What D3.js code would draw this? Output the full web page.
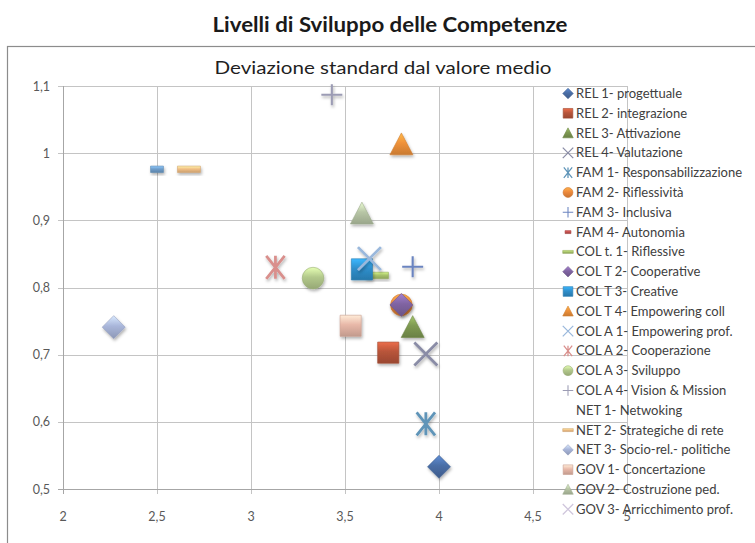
<!DOCTYPE html>
<html lang="it">
<head>
  <meta charset="utf-8">
  <title>Livelli di Sviluppo delle Competenze</title>
  <script src="https://d3js.org/d3.v7.min.js"></script>
  <style>
    body { margin: 0; background: #fff; }
    text { font-family: Lato, "Open Sans", sans-serif; }
  </style>
</head>
<body>
<script>

// series, in legend order
var series = ["REL 1- progettuale", "REL 2- integrazione", "REL 3- Attivazione", "REL 4- Valutazione",
    "FAM 1- Responsabilizzazione", "FAM 2- Riflessività", "FAM 3- Inclusiva", "FAM 4- Autonomia",
    "COL t. 1- Riflessive", "COL T 2- Cooperative", "COL T 3- Creative", "COL T 4- Empowering coll",
    "COL A 1- Empowering prof.", "COL A 2- Cooperazione", "COL A 3- Sviluppo", "COL A 4- Vision & Mission",
    "NET 1- Netwoking", "NET 2- Strategiche di rete", "NET 3- Socio-rel.- politiche",
    "GOV 1- Concertazione", "GOV 2- Costruzione ped.", "GOV 3- Arricchimento prof."];

// mean value (x) and standard deviation (y); null = not visible in the picture
var xValues = [4.00, 3.73, 3.86, 3.93, 3.93, 3.80, 3.86, null, 3.67, 3.80, 3.59,
    3.80, 3.63, 3.13, 3.33, 3.43, 2.50, 2.67, 2.27, 3.53, 3.59, null];
var yValues = [0.533, 0.703, 0.741, 0.701, 0.597, 0.774, 0.831, null, 0.818, 0.774, 0.827,
    1.013, 0.843, 0.830, 0.814, 1.087, 0.976, 0.976, 0.741, 0.743, 0.910, null];

var shapes = ["diamond", "square", "triangle", "x", "star", "circle", "plus", "dash",
    "longdash", "diamond", "square", "triangle", "x", "star", "circle", "plus",
    "dash", "longdash", "diamond", "square", "triangle", "x"];
var colors = ["#4a6ea6", "#b8553a", "#7f9a52", "#8a8ca6", "#5e94b8", "#ee8a3c", "#6b84c0", "#c0504d",
    "#a9c46c", "#8064a2", "#2f8fcc", "#f0923a", "#9ab8dc", "#d98f8c", "#b3c98c", "#9c9cb4",
    "#6f9ecb", "#f2bf85", "#a9b6da", "#e8b8a8", "#b8c6a6", "#cfc6dc"];
var legendMarker = [1, 1, 1, 1, 1, 1, 1, 1, 1, 1, 1, 1, 1, 1, 1, 1, 0, 1, 1, 1, 1, 1];

var xTicks = [2, 2.5, 3, 3.5, 4, 4.5, 5];
var xTickLabels = ["2", "2,5", "3", "3,5", "4", "4,5", "5"];
var yTicks = [0.5, 0.6, 0.7, 0.8, 0.9, 1, 1.1];
var yTickLabels = ["0,5", "0,6", "0,7", "0,8", "0,9", "1", "1,1"];

var width = 755, height = 543;

var svg = d3.select("body").append("svg")
    .attr("width", width)
    .attr("height", height);

var defs = svg.append("defs");
var shadow = defs.append("filter").attr("id", "shadow")
    .attr("x", "-50%").attr("y", "-50%").attr("width", "200%").attr("height", "200%");
shadow.append("feDropShadow")
    .attr("dx", 1).attr("dy", 2).attr("stdDeviation", 1.4)
    .attr("flood-color", "#000").attr("flood-opacity", 0.3);

colors.forEach(function(c, i) {
    var g = defs.append("linearGradient").attr("id", "grad" + i)
        .attr("x1", 0).attr("y1", 0).attr("x2", 0).attr("y2", 1);
    g.append("stop").attr("offset", "0%").attr("stop-color", d3.color(c).brighter(0.7));
    g.append("stop").attr("offset", "45%").attr("stop-color", c);
    g.append("stop").attr("offset", "100%").attr("stop-color", d3.color(c).darker(0.5));
});

var x = d3.scaleLinear().domain([2, 5]).range([63, 627]);
var y = d3.scaleLinear().domain([0.5, 1.1]).range([489, 86]);

// page title
svg.append("text")
    .attr("x", 390).attr("y", 31.5)
    .attr("text-anchor", "middle")
    .attr("font-weight", "bold")
    .attr("font-size", 20)
    .attr("textLength", 355)
    .attr("lengthAdjust", "spacingAndGlyphs")
    .attr("fill", "#1a1a1a")
    .text("Livelli di Sviluppo delle Competenze");

// chart frame
svg.append("rect")
    .attr("x", 7.5).attr("y", 46.5)
    .attr("width", 800).attr("height", 600)
    .attr("fill", "#fff")
    .attr("stroke", "#8c8c8c")
    .attr("stroke-width", 1.2);

svg.append("text")
    .attr("x", 383).attr("y", 74)
    .attr("text-anchor", "middle")
    .attr("font-size", 18)
    .attr("textLength", 337)
    .attr("lengthAdjust", "spacingAndGlyphs")
    .attr("fill", "#1f1f1f")
    .text("Deviazione standard dal valore medio");

// grid
svg.append("g").selectAll("line")
    .data(yTicks)
    .join("line")
    .attr("x1", x(2) - 5).attr("x2", x(5))
    .attr("y1", function(d) { return Math.round(y(d)) + 0.5; })
    .attr("y2", function(d) { return Math.round(y(d)) + 0.5; })
    .attr("stroke", "#c4c4c4");

svg.append("g").selectAll("line")
    .data(xTicks)
    .join("line")
    .attr("x1", function(d) { return Math.round(x(d)) + 0.5; })
    .attr("x2", function(d) { return Math.round(x(d)) + 0.5; })
    .attr("y1", y(1.1)).attr("y2", y(0.5) + 5)
    .attr("stroke", "#c4c4c4");

// axis lines
svg.append("line")
    .attr("x1", x(2) + 0.5).attr("x2", x(2) + 0.5)
    .attr("y1", y(1.1)).attr("y2", y(0.5) + 5)
    .attr("stroke", "#a6a6a6");
svg.append("line")
    .attr("x1", x(2) - 5).attr("x2", x(5))
    .attr("y1", Math.round(y(0.5)) + 0.5).attr("y2", Math.round(y(0.5)) + 0.5)
    .attr("stroke", "#a6a6a6");

svg.append("g").selectAll("text")
    .data(yTicks)
    .join("text")
    .attr("x", 50)
    .attr("y", function(d) { return y(d) + 4.5; })
    .attr("text-anchor", "end")
    .attr("font-size", 12.5)
    .attr("fill", "#595959")
    .text(function(d, i) { return yTickLabels[i]; });

svg.append("g").selectAll("text")
    .data(xTicks)
    .join("text")
    .attr("x", function(d) { return x(d); })
    .attr("y", 521)
    .attr("text-anchor", "middle")
    .attr("font-size", 12.5)
    .attr("fill", "#595959")
    .text(function(d, i) { return xTickLabels[i]; });

// marker shapes, s = full size
function markerPath(shape, s) {
    var h = s / 2;
    switch (shape) {
        case "diamond": return "M0," + (-h) + "L" + h + ",0L0," + h + "L" + (-h) + ",0Z";
        case "square": h = s * 0.46; return "M" + (-h) + "," + (-h) + "H" + h + "V" + h + "H" + (-h) + "Z";
        case "triangle": return "M0," + (-h) + "L" + h + "," + (h * 0.9) + "L" + (-h) + "," + (h * 0.9) + "Z";
        case "circle": h = s * 0.47; return "M" + (-h) + ",0A" + h + "," + h + " 0 1,1 " + h + ",0A" + h + "," + h + " 0 1,1 " + (-h) + ",0Z";
        case "dash": return "M" + (-s * 0.28) + "," + (-s * 0.14) + "H" + (s * 0.28) + "V" + (s * 0.14) + "H" + (-s * 0.28) + "Z";
        case "longdash": return "M" + (-h) + "," + (-s * 0.14) + "H" + h + "V" + (s * 0.14) + "H" + (-h) + "Z";
        case "x": return "M" + (-h) + "," + (-h) + "L" + h + "," + h + "M" + h + "," + (-h) + "L" + (-h) + "," + h;
        case "plus": return "M" + (-h) + ",0H" + h + "M0," + (-h) + "V" + h;
        case "star": return "M" + (-h * 0.8) + "," + (-h) + "L" + (h * 0.8) + "," + h +
            "M" + (h * 0.8) + "," + (-h) + "L" + (-h * 0.8) + "," + h + "M0," + (-h) + "V" + h;
    }
}
var lineShapes = ["x", "plus", "star"];

function drawMarker(sel, i, s, withShadow) {
    var shape = shapes[i];
    var p = sel.append("path").attr("d", markerPath(shape, s));
    if (lineShapes.indexOf(shape) >= 0) {
        p.attr("fill", "none")
            .attr("stroke", colors[i])
            .attr("stroke-width", shape === "plus" ? s * 0.1 : s * 0.12)
            .attr("stroke-linecap", "butt");
    } else {
        p.attr("fill", "url(#grad" + i + ")")
            .attr("stroke", d3.color(colors[i]).darker(0.4))
            .attr("stroke-width", 0.6);
    }
    if (withShadow) p.attr("filter", "url(#shadow)");
}

// points, drawn in legend order (so COL T 2 sits over FAM 2)
var points = series.map(function(name, i) {
    return { i: i, name: name, x: xValues[i], y: yValues[i] };
}).filter(function(d) { return d.x != null && d.y != null; });

svg.append("g").selectAll("g")
    .data(points)
    .join("g")
    .attr("transform", function(d) { return "translate(" + x(d.x) + "," + y(d.y) + ")"; })
    .each(function(d) {
        var s = (shapes[d.i] === "plus") ? 21 : 23;
        drawMarker(d3.select(this), d.i, s, true);
    });

// legend (no background, drawn over the plot)
var legend = svg.append("g").selectAll("g")
    .data(series)
    .join("g")
    .attr("transform", function(d, i) { return "translate(568," + (93.5 + i * 19.8) + ")"; });

legend.each(function(d, i) {
    if (legendMarker[i]) drawMarker(d3.select(this), i, 10.5, false);
});

legend.append("text")
    .attr("x", 8)
    .attr("y", 4.5)
    .attr("font-size", 13)
    .attr("fill", "#404040")
    .text(function(d) { return d; });

</script>
</body>
</html>
